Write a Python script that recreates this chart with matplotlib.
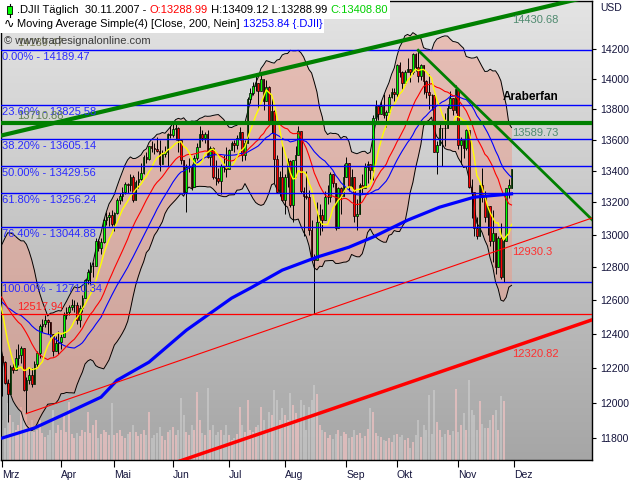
"""
DJII Tageschart März–November 2007 mit Bollinger-Band, gleitenden Durchschnitten,
Fibonacci-Retracement und Trendlinien (Nachbau eines Tradesignal-Screenshots).
"""
import matplotlib
matplotlib.use("Agg")
import matplotlib.pyplot as plt
import matplotlib.patches as mpatches
from matplotlib.colors import LinearSegmentedColormap
from matplotlib.ticker import NullLocator, NullFormatter
from matplotlib.transforms import blended_transform_factory
import numpy as np
import pandas as pd

plt.rcParams["font.family"] = ["Liberation Sans", "DejaVu Sans"]

# Handelstage: Index 0 = 01.03.2007, Index 191 = 30.11.2007
MONTHS = ["Mrz", "Apr", "Mai", "Jun", "Jul", "Aug", "Sep", "Okt", "Nov", "Dez"]
MONTH_START = [0, 22, 42, 64, 85, 106, 129, 148, 171, 192]

# Schlusskurse vor dem Chartbeginn (18.01.–28.02.2007), nur für die Durchschnitte
PRIOR_CLOSE = [12567.93, 12565.53, 12477.16, 12533.80, 12621.77, 12502.56, 12487.02,
               12490.78, 12523.31, 12621.69, 12673.68, 12653.49, 12661.74, 12666.87,
               12666.31, 12637.63, 12580.83, 12552.55, 12654.85, 12741.86, 12765.01,
               12767.57, 12786.64, 12738.41, 12686.02, 12647.48, 12632.26, 12216.24,
               12268.63]

OPEN = [
    12269, 12234, 12114, 12050, 12208, 12192, 12261, 12276, 12319, 12076, 12133, 12160,
    12110, 12226, 12288, 12448, 12461, 12481, 12469, 12397, 12300, 12349,
    12354, 12382, 12510, 12530, 12560, 12569, 12574, 12485, 12553, 12612, 12720, 12773,
    12804, 12809, 12962, 12919, 12954, 13090, 13106, 13121,
    13063, 13136, 13212, 13241, 13265, 13313, 13309, 13363, 13215, 13326, 13347, 13384,
    13488, 13477, 13557, 13543, 13540, 13526, 13441, 13507, 13521, 13633,
    13628, 13668, 13676, 13595, 13466, 13267, 13424, 13425, 13295, 13482, 13554, 13639,
    13613, 13635, 13489, 13546, 13360, 13352, 13338, 13428, 13422,
    13409, 13535, 13577, 13566, 13612, 13650, 13502, 13578, 13862, 13907, 13951, 13972,
    13918, 14000, 13851, 13943, 13717, 13785, 13474, 13265, 13358,
    13212, 13362, 13463, 13182, 13469, 13504, 13658, 13271, 13240, 13237, 13029, 12861,
    12846, 13079, 13121, 13091, 13236, 13236, 13379, 13322, 13042, 13289, 13239,
    13358, 13449, 13305, 13363, 13113, 13128, 13308, 13292, 13425, 13443, 13403, 13739,
    13816, 13767, 13820, 13759, 13779, 13878, 13913,
    13896, 14088, 14047, 13968, 14044, 14066, 14044, 14165, 14079, 14015, 14093, 13985,
    13913, 13893, 13889, 13522, 13567, 13676, 13675, 13672, 13807, 13870, 13792,
    13930, 13568, 13595, 13543, 13661, 13300, 13266, 13043, 12988, 13307, 13231, 13110,
    13177, 12958, 13010, 12799, 12981, 12743, 12958, 13289, 13288.99,
]
HIGH = [
    12270, 12240, 12140, 12220, 12230, 12310, 12340, 12330, 12320, 12150, 12200, 12200,
    12240, 12300, 12460, 12490, 12510, 12490, 12470, 12400, 12390, 12420,
    12400, 12530, 12560, 12570, 12610, 12600, 12590, 12570, 12630, 12730, 12790, 12830,
    12830, 12980, 12970, 12980, 13100, 13140, 13140, 13150,
    13140, 13230, 13260, 13300, 13330, 13320, 13380, 13370, 13340, 13400, 13450, 13500,
    13520, 13560, 13590, 13580, 13620, 13600, 13530, 13560, 13640, 13690,
    13700, 13700, 13680, 13600, 13470, 13440, 13480, 13440, 13500, 13580, 13690, 13660,
    13650, 13660, 13560, 13550, 13470, 13420, 13440, 13500, 13550,
    13540, 13590, 13600, 13630, 13680, 13650, 13600, 13880, 13940, 13980, 14020, 13972,
    14030, 14000, 13990, 13950, 13880, 13790, 13500, 13400, 13560,
    13380, 13480, 13470, 13470, 13560, 13690, 13658, 13300, 13400, 13280, 13090, 12880,
    13200, 13190, 13160, 13270, 13310, 13390, 13380, 13322, 13300, 13300, 13440,
    13490, 13449, 13410, 13363, 13220, 13320, 13380, 13450, 13460, 13443, 13760, 13860,
    13816, 13850, 13900, 13790, 13900, 13940, 13940,
    14100, 14110, 14050, 14060, 14140, 14066, 14170, 14170, 14189.47, 14100, 14093, 13990,
    14030, 13900, 13889, 13590, 13700, 13676, 13770, 13830, 13920, 13870, 13960,
    13930, 13620, 13600, 13670, 13661, 13350, 13266, 13110, 13310, 13420, 13270, 13180,
    13177, 13150, 13010, 12990, 13070, 12970, 13290, 13350, 13409.12,
]
LOW = [
    12040, 12110, 11890, 12050, 12170, 12192, 12220, 12230, 12070, 11940, 12110, 12090,
    12110, 12200, 12260, 12410, 12440, 12400, 12380, 12270, 12300, 12280,
    12310, 12382, 12490, 12510, 12540, 12530, 12460, 12440, 12530, 12612, 12700, 12700,
    12740, 12809, 12900, 12880, 12950, 13060, 13050, 13050,
    13020, 13130, 13190, 13210, 13250, 13260, 13270, 13200, 13215, 13290, 13340, 13380,
    13450, 13470, 13520, 13510, 13520, 13400, 13441, 13490, 13430, 13610,
    13620, 13600, 13520, 13440, 13260, 13140, 13390, 13280, 13295, 13470, 13554, 13590,
    13580, 13480, 13430, 13350, 13310, 13320, 13250, 13390, 13360,
    13409, 13530, 13520, 13540, 13600, 13460, 13470, 13578, 13840, 13890, 13920, 13800,
    13918, 13790, 13851, 13700, 13640, 13320, 13260, 13240, 13210,
    13130, 13300, 13170, 13080, 13360, 13504, 13260, 12990, 13220, 13000, 12850, 12517.94,
    12846, 13000, 13020, 13091, 13190, 13200, 13300, 13030, 13042, 13130, 13239,
    13358, 13270, 13300, 13080, 13030, 13128, 13260, 13292, 13320, 13350, 13340, 13730,
    13730, 13767, 13740, 13680, 13779, 13870, 13850,
    13880, 14010, 13930, 13960, 14044, 13980, 14030, 14050, 13980, 13990, 13900, 13870,
    13800, 13790, 13520, 13380, 13567, 13430, 13560, 13672, 13807, 13760, 13770,
    13540, 13440, 13480, 13530, 13290, 13100, 12990, 12970, 12988, 13200, 13080, 13000,
    12930, 12830, 12760, 12799, 12730, 12710.34, 12958, 13230, 13288.99,
]
CLOSE = [
    12234, 12114, 12050, 12208, 12192, 12261, 12276, 12319, 12076, 12133, 12160, 12110,
    12226, 12288, 12448, 12461, 12481, 12469, 12397, 12300, 12349, 12354,
    12382, 12510, 12530, 12560, 12569, 12574, 12485, 12553, 12612, 12720, 12773, 12804,
    12809, 12962, 12919, 12954, 13090, 13106, 13121, 13063,
    13136, 13212, 13241, 13265, 13313, 13309, 13363, 13215, 13326, 13347, 13384, 13488,
    13477, 13557, 13543, 13540, 13526, 13441, 13507, 13521, 13633, 13628,
    13668, 13676, 13595, 13466, 13267, 13424, 13425, 13295, 13482, 13554, 13639, 13613,
    13635, 13489, 13546, 13360, 13352, 13338, 13428, 13422, 13409,
    13535, 13577, 13566, 13612, 13650, 13502, 13578, 13862, 13907, 13951, 13972, 13918,
    14000, 13851, 13943, 13717, 13785, 13474, 13265, 13358, 13212,
    13362, 13463, 13182, 13469, 13504, 13658, 13271, 13240, 13237, 13029, 12861, 12846,
    13079, 13121, 13091, 13236, 13236, 13379, 13322, 13042, 13289, 13239, 13358,
    13449, 13305, 13363, 13113, 13128, 13308, 13292, 13425, 13443, 13403, 13739, 13816,
    13767, 13820, 13759, 13779, 13878, 13913, 13896,
    14088, 14047, 13968, 14044, 14066, 14044, 14165, 14079, 14015, 14093, 13985, 13913,
    13893, 13889, 13522, 13567, 13676, 13675, 13672, 13807, 13870, 13792, 13930,
    13568, 13595, 13543, 13661, 13300, 13266, 13043, 12988, 13307, 13231, 13110, 13177,
    12958, 13010, 12799, 12981, 12743, 12958, 13289, 13312, 13408.80,
]
VOLUME = [
    40, 32, 57, 45, 38, 30, 35, 53, 50, 45, 35, 40, 28, 30, 40, 27, 23, 25, 30, 50, 27, 35,
    30, 47, 28, 58, 26, 22, 27, 24, 30, 28, 48, 27, 35, 40, 22, 26, 30, 28, 25, 57,
    25, 27, 30, 24, 22, 26, 28, 35, 28, 24, 26, 30, 25, 48, 22, 25, 27, 33, 24, 20, 28, 30,
    33, 25, 30, 62, 45, 28, 25, 35, 30, 68, 40, 27, 25, 72, 30, 35, 25, 28, 30, 25, 35,
    25, 20, 22, 26, 53, 35, 28, 60, 30, 28, 33, 35, 53, 40, 30, 48, 45, 70, 60, 40, 52,
    45, 40, 67, 55, 47, 39, 60, 55, 30, 53, 60, 75, 66, 35, 30, 28, 22, 25, 21, 26, 30, 24, 28,
    26, 22, 23, 30, 25, 27, 22, 24, 31, 52, 48, 27, 24, 23, 20, 19, 22, 18, 25,
    26, 23, 25, 20, 22, 12, 18, 25, 40, 23, 35, 30, 65, 26, 70, 38, 30, 23, 26, 30, 25, 29, 71,
    28, 35, 47, 30, 80, 50, 45, 30, 59, 36, 32, 32, 40, 45, 50, 30, 64, 59, 0, 0, 0,
]

SMA200_DAY = [0, 12, 24, 37, 43, 55, 69, 86, 93, 105, 118, 130, 139, 152, 164, 177, 191]
SMA200_VAL = [11802, 11858, 11941, 12033, 12130, 12235, 12422, 12613, 12673, 12782,
              12861, 12922, 12984, 13089, 13170, 13233, 13253.84]

FIB_PCT = ["0.00%", "23.60%", "38.20%", "50.00%", "61.80%", "76.40%", "100.00%"]
FIB_VAL = [14189.47, 13825.58, 13605.14, 13429.56, 13256.24, 13044.88, 12710.34]

GREEN_LEVEL = 13710.88
RED_LEVEL = 12517.94

# Trendlinien: zwei Ankerpunkte (Tag, Kurs) und Starttag
GREEN_UP = ([97, 191], [14030, 14430.68])
GREEN_DOWN = ([156, 191], [14189.47, 13589.73])
RED_THIN = ([117, 191], [12517.94, 12930.3])
RED_THICK = ([63, 191], [11655, 12320.82])
RED_THIN_START = 9
LAST_DAY = 191

Y_TICKS = list(range(11800, 14201, 200))

W, H = 640, 480
X_MIN, X_MAX = -0.525, 221.2
Y_MIN, Y_MAX = 11679, 14526


def trend(anchor, d_from, d_to):
    (d0, d1), (p0, p1) = anchor
    k = np.log(p1 / p0) / (d1 - d0)
    d = np.array([d_from, d_to])
    return d, p0 * np.exp(k * (d - d0))


def trend_value(anchor, day):
    return trend(anchor, day, day)[1][0]


fig = plt.figure(figsize=(W / 100, H / 100), dpi=100)
fig.patch.set_facecolor("white")
rect = [1 / W, 20 / H, 591 / W, 459 / H]

# Hintergrund mit Verlauf
bg = fig.add_axes(rect, zorder=0)
cmap = LinearSegmentedColormap.from_list("bg", ["#e4e4e4", "#a6a6a6"])
bg.imshow(np.linspace(0, 1, 256).reshape(-1, 1), cmap=cmap, aspect="auto", extent=[0, 1, 0, 1])
bg.axis("off")

ax = fig.add_axes(rect, zorder=1)
ax.patch.set_visible(False)
ax.set_yscale("log")
ax.set_xlim(X_MIN, X_MAX)
ax.set_ylim(Y_MIN, Y_MAX)
ax.autoscale(False)

days = np.arange(len(CLOSE))
o = np.array(OPEN, float)
h = np.array(HIGH, float)
l = np.array(LOW, float)
c = np.array(CLOSE, float)
up = c >= o

# Volumen am unteren Rand
vol_tr = blended_transform_factory(ax.transData, ax.transAxes)
vol = np.array(VOLUME, float) / 459.0
ax.vlines(days[up], 0, vol[up], colors="#f4c4c4", alpha=0.85, lw=1.15, transform=vol_tr, zorder=1)
ax.vlines(days[~up], 0, vol[~up], colors="#d8d8d8", alpha=0.6, lw=1.15, transform=vol_tr, zorder=1)

# Durchschnitte und Bollinger-Band
full = pd.Series(PRIOR_CLOSE + CLOSE, index=np.arange(-len(PRIOR_CLOSE), len(CLOSE)))
sma8 = full.rolling(8).mean()
sma20 = full.rolling(20).mean()
sma30 = full.rolling(30).mean()
std20 = full.rolling(20).std(ddof=0)
upper = (sma20 + 2 * std20)[full.index >= -1]
lower = (sma20 - 2 * std20)[full.index >= -1]

ax.fill_between(upper.index, lower.values, upper.values, color="#f09682", alpha=0.45, lw=0, zorder=2)
ax.plot(upper.index, upper.values, color="black", lw=0.7, zorder=3)
ax.plot(lower.index, lower.values, color="black", lw=0.7, zorder=3)

# Kerzen
ax.vlines(days, l, h, colors="black", lw=0.7, zorder=4)
body_lo = np.minimum(o, c)
body_h = np.maximum(np.abs(c - o), 1.0)
ax.bar(days, body_h, bottom=body_lo, width=0.62,
       color=np.where(up, "#00ff00", "#ff0000"), edgecolor="black", linewidth=0.5, zorder=4)

s8 = sma8[full.index >= -1]
s20 = sma20[full.index >= -1]
s30 = sma30.dropna()
ax.plot(s30.index, s30.values, color="#0000ff", lw=0.8, zorder=5)
ax.plot(s20.index, s20.values, color="#ff0000", lw=0.8, zorder=5)
ax.plot(s8.index, s8.values, color="#ffff00", lw=1.0, zorder=5)
ax.plot(SMA200_DAY, SMA200_VAL, color="#0000ff", lw=2.3, zorder=5)

# Fibonacci-Linien
for pct, val in zip(FIB_PCT, FIB_VAL):
    ax.axhline(val, color="#0000ff", lw=1.0, zorder=6)
    ax.annotate(f"{pct} - {val:.2f}", xy=(0, val), xycoords=("axes fraction", "data"),
                xytext=(1, -7), textcoords="offset pixels", va="center", ha="left",
                color="#2a2aff", fontsize=8, zorder=8)

# Horizontale Marken
ax.axhline(GREEN_LEVEL, color="#008000", lw=3.0, zorder=6)
ax.axhline(RED_LEVEL, color="#ff0000", lw=0.9, zorder=6)
for val, col in [(FIB_VAL[0], "#7a7f58"), (GREEN_LEVEL, "#5f7f4f"), (RED_LEVEL, "#ff2020")]:
    ax.annotate(f"{val:.2f}", xy=(0, val), xycoords=("axes fraction", "data"),
                xytext=(16, 7), textcoords="offset pixels", va="center", ha="left",
                color=col, fontsize=8, zorder=8)

# Trendlinien
d, p = trend(GREEN_UP, X_MIN, X_MAX)
ax.plot(d, p, color="#008000", lw=3.0, zorder=7)
d, p = trend(GREEN_DOWN, GREEN_DOWN[0][0], X_MAX)
ax.plot(d, p, color="#008000", lw=2.0, zorder=7)
d, p = trend(RED_THIN, RED_THIN_START, X_MAX)
ax.plot(d, p, color="#ff0000", lw=0.8, zorder=7)
d, p = trend(RED_THICK, RED_THICK[0][0], X_MAX)
ax.plot(d, p, color="#ff0000", lw=2.5, zorder=7)

labels = [(GREEN_UP, "#4f8a6f", -5, "{:.2f}"), (GREEN_DOWN, "#4f8a6f", 8, "{:.2f}"),
          (RED_THIN, "#ff3030", -6, "{:.1f}"), (RED_THICK, "#ff3030", -7, "{:.2f}")]
for anchor, col, dy, fmt in labels:
    v = trend_value(anchor, LAST_DAY)
    ax.annotate(fmt.format(v), xy=(LAST_DAY, v), xytext=(1, dy), textcoords="offset pixels",
                va="center", ha="left", color=col, fontsize=8, zorder=8)

ax.text(0.849, 0.791, "Araberfan", transform=ax.transAxes, fontsize=8.5,
        fontweight="bold", color="black", va="center", ha="left", zorder=8)

# Achsen
ax.yaxis.tick_right()
ax.set_yticks(Y_TICKS)
ax.set_yticklabels([str(v) for v in Y_TICKS])
ax.yaxis.set_minor_locator(NullLocator())
ax.yaxis.set_minor_formatter(NullFormatter())
ax.tick_params(axis="y", direction="out", length=3, width=0.8, pad=3,
               labelsize=7.5, labelcolor="#14143c")
ax.set_xticks(MONTH_START)
ax.set_xticklabels(MONTHS)
for t in ax.get_xticklabels():
    t.set_ha("left")
ax.tick_params(axis="x", direction="out", length=5, width=0.8, pad=2,
               labelsize=7.5, labelcolor="#14143c")
for spine in ax.spines.values():
    spine.set_edgecolor("black")
    spine.set_linewidth(1.0)

fig.text(600 / W, 1 - 8 / H, "USD", fontsize=7.5, color="#14143c", va="center", ha="left")

# Kopfzeilen
renderer = fig.canvas.get_renderer()


def write_row(x_px, y_px, parts, size=8):
    x = x_px
    for text, col in parts:
        t = fig.text(x / W, 1 - y_px / H, text, color=col, fontsize=size,
                     va="center", ha="left", zorder=6)
        x = t.get_window_extent(renderer).x1
    return x


def white_box(x0, y0, x1, y1):
    fig.add_artist(mpatches.Rectangle((x0 / W, 1 - y1 / H), (x1 - x0) / W, (y1 - y0) / H,
                                      transform=fig.transFigure, facecolor="white",
                                      edgecolor="none", zorder=4))


end1 = write_row(17, 10, [(".DJII Täglich  30.11.2007 - ", "black"), ("O:13288.99", "#ff0000"),
                          (" H:13409.12 L:13288.99 ", "black"), ("C:13408.80", "#00d000")])
end2 = write_row(17, 24, [("Moving Average Simple(4) [Close, 200, Nein] ", "black"),
                          ("13253.84 {.DJII}", "#0000ff")])
white_box(0, 0, end1 + 2, 19)
white_box(0, 19, end2 + 2, 33)
fig.text(4 / W, 1 - 24 / H, "∿", fontsize=9, color="black", va="center", ha="left",
         family="DejaVu Sans", zorder=6)
fig.add_artist(matplotlib.lines.Line2D([9.5 / W, 9.5 / W], [1 - 4 / H, 1 - 17 / H],
                                       transform=fig.transFigure, color="black", lw=0.8, zorder=5))
fig.add_artist(mpatches.Rectangle((7 / W, 1 - 14 / H), 5 / W, 8 / H, transform=fig.transFigure,
                                  facecolor="#00ff00", edgecolor="black", lw=0.6, zorder=6))
fig.text(4 / W, 1 - 41 / H, "© www.tradesignalonline.com", fontsize=8, color="#3c3c3c",
         va="center", ha="left", zorder=6)

fig.savefig("out.png", dpi=100, facecolor=fig.get_facecolor())
